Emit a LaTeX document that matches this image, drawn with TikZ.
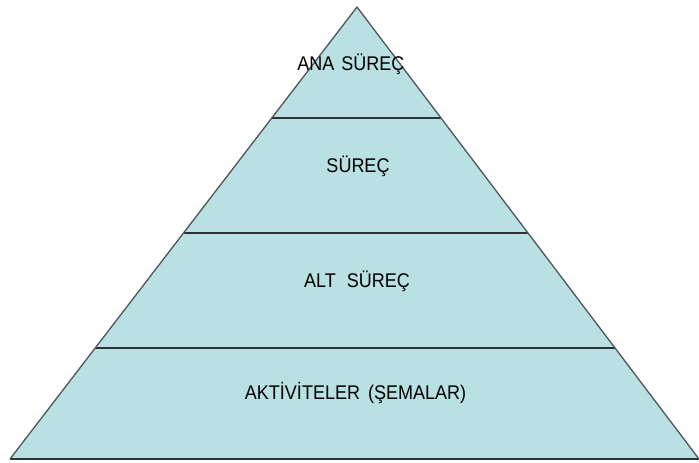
\documentclass[tikz,border=0pt]{standalone}
\usepackage{graphicx}
\usepackage{fontspec}
\setmainfont{Liberation Sans}
\definecolor{pyrfill}{RGB}{185,224,227}
\definecolor{pyredge}{RGB}{80,85,88}
\definecolor{tierline}{RGB}{45,50,52}
\newcommand{\tall}[1]{\scalebox{1}[1.1]{#1}}
\begin{document}
\begin{tikzpicture}[x=1pt,y=-1pt,
  label/.style={font=\fontsize{18}{20}\selectfont, text=black, inner sep=0pt, anchor=center},
  tier/.style={draw=tierline, line width=1.8pt}]
\useasboundingbox (0,0) rectangle (699,463);
\coordinate (apex) at (357,7);
\coordinate (bl) at (10,459);
\coordinate (br) at (699,459);
\fill[pyrfill] (apex) -- (bl) -- (br) -- cycle;
% tier boundaries
\coordinate (l1) at (271.9,118); \coordinate (r1) at (441.0,118);
\coordinate (l2) at (183.6,233); \coordinate (r2) at (528.0,233);
\coordinate (l3) at (95.4,348);  \coordinate (r3) at (615.0,348);
\draw[tier] (l1) -- (r1);
\draw[tier] (l2) -- (r2);
\draw[tier] (l3) -- (r3);
\draw[tier] (bl) -- (br);
\draw[draw=pyredge, line width=1.3pt, line join=round] (bl) -- (apex) -- (br);
\node[label] (t1) at (351,64) {\tall{ANA\hspace{7pt}SÜREÇ}};
\node[label] (t2) at (358,166) {\tall{SÜREÇ}};
\node[label] (t3) at (357,281) {\tall{ALT\hspace{11pt}SÜREÇ}};
\node[label] (t4) at (355.5,393) {\tall{AKTİVİTELER\hspace{8pt}(ŞEMALAR)}};
\end{tikzpicture}
\end{document}
